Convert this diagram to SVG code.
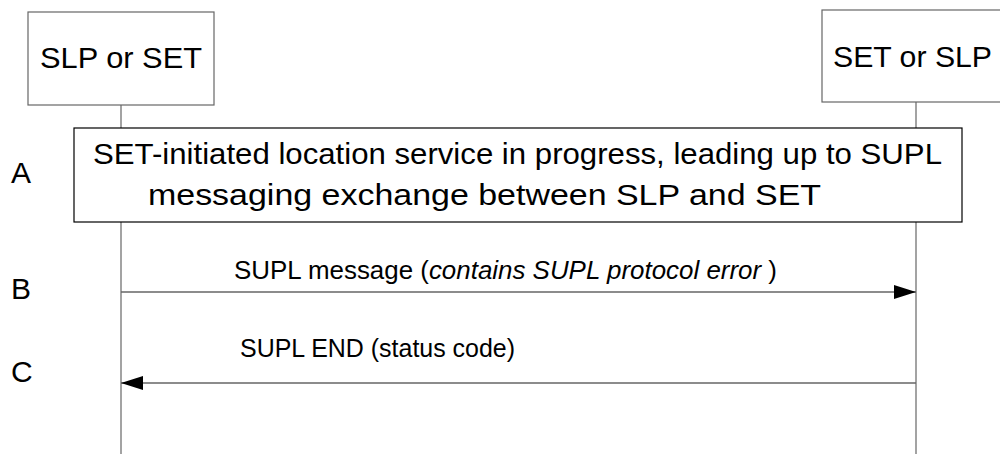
<svg xmlns="http://www.w3.org/2000/svg" width="1000" height="454" viewBox="0 0 1000 454">
<style>
text{font-family:"Liberation Sans",Arial,sans-serif;fill:#000}
.hdr{fill:#fff;stroke:#666;stroke-width:1.2}
.life{stroke:#666;stroke-width:1.2;fill:none}
.msg{stroke:#666;stroke-width:1.5;fill:none}
.big{fill:#fff;stroke:#000;stroke-width:1.2}
</style>
<defs>
<marker id="ah" markerWidth="22" markerHeight="14" refX="22" refY="7" orient="auto" markerUnits="userSpaceOnUse">
<path d="M0,0 L22,7 L0,14 Z" fill="#000"/>
</marker>
</defs>
<g id="lifelines">
<line class="life" x1="121" y1="105" x2="121" y2="454"/>
<line class="life" x1="916" y1="102" x2="916" y2="454"/>
</g>
<g id="node-left">
<rect class="hdr" x="28" y="12" width="186" height="93"/>
<text x="40" y="68" font-size="30" textLength="162" lengthAdjust="spacingAndGlyphs">SLP or SET</text>
</g>
<g id="node-right">
<rect class="hdr" x="822" y="10" width="190" height="92"/>
<text x="833" y="67" font-size="30" textLength="159" lengthAdjust="spacingAndGlyphs">SET or SLP</text>
</g>
<g id="step-A">
<rect class="big" x="74" y="128" width="888" height="94"/>
<text x="93" y="164" font-size="30" textLength="849" lengthAdjust="spacingAndGlyphs">SET-initiated location service in progress, leading up to SUPL</text>
<text x="148" y="205" font-size="30" textLength="673" lengthAdjust="spacingAndGlyphs">messaging exchange between SLP and SET</text>
</g>
<g id="labels">
<text x="11" y="183" font-size="30">A</text>
<text x="11" y="299" font-size="30">B</text>
<text x="11" y="382" font-size="30">C</text>
</g>
<g id="connectors">
<line class="msg" x1="121" y1="292" x2="916" y2="292" marker-end="url(#ah)"/>
<line class="msg" x1="916" y1="383" x2="121" y2="383" marker-end="url(#ah)"/>
</g>
<g id="message-labels">
<text x="234" y="279" font-size="25" textLength="543" lengthAdjust="spacingAndGlyphs">SUPL message (<tspan font-style="italic">contains SUPL protocol error </tspan>)</text>
<text x="240" y="357" font-size="25" textLength="275" lengthAdjust="spacingAndGlyphs">SUPL END (status code)</text>
</g>
</svg>
